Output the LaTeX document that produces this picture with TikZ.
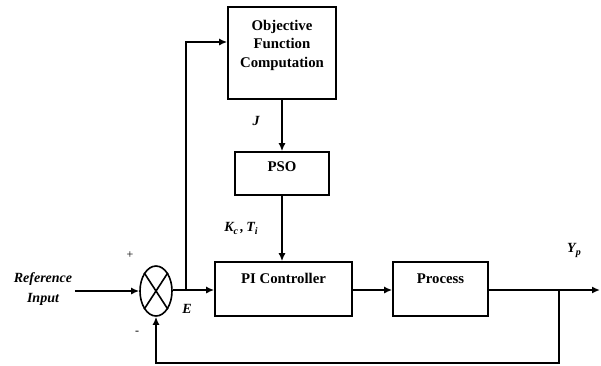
\documentclass[tikz,border=0pt]{standalone}
\usepackage{fontspec}
\setmainfont{Liberation Serif}
\usetikzlibrary{arrows.meta,shapes.geometric}
\newcommand{\sbi}[2]{\textbf{\textit{#1}}\raisebox{-3pt}{\fontsize{10}{10}\selectfont\textbf{\textit{#2}}}}
\begin{document}
\begin{tikzpicture}[x=1pt,y=-1pt,
  line width=1.6pt,
  arr/.style={-{Latex[length=8pt,width=7pt]}},
  blk/.style={draw,rectangle,inner sep=0pt,font=\fontsize{14.8}{18.5}\selectfont\bfseries,align=center},
  lbl/.style={inner sep=0pt,font=\fontsize{14}{16}\selectfont\bfseries\itshape}]
\useasboundingbox (0,0) rectangle (601,365);
\node[blk,minimum width=108pt,minimum height=92pt] (obj) at (282,53) {Objective\\Function\\Computation\\\mbox{}};
\node[blk,minimum width=94pt,minimum height=43pt,text height=9pt,text depth=13pt] (pso) at (282,173.5) {PSO};
\node[blk,minimum width=137pt,minimum height=54pt,text height=9pt,text depth=21pt] (pi) at (283.5,289) {PI Controller};
\node[blk,minimum width=95pt,minimum height=54pt,text height=9pt,text depth=21pt] (proc) at (440.5,289) {Process};
\node[draw,ellipse,inner sep=0pt,minimum width=32pt,minimum height=50pt] (sum) at (156,291) {};
\draw (sum.north west) -- (sum.south east) (sum.north east) -- (sum.south west);
\node[inner sep=0pt,align=center,font=\fontsize{14}{20}\selectfont\bfseries\itshape] (in) at (43,289) {Reference\\Input};
\coordinate (br) at (186,290);
\coordinate (out) at (600,290);
\coordinate (fb) at (559,290);
\coordinate (fbb) at (559,363);
\draw[arr] (in.east |- sum.west) ++(2,0) -- (sum.west);
\draw[arr] (sum.east |- br) -- (pi.west |- br);
\draw[arr] (br) |- ([yshift=11pt]obj.west);
\draw[arr] (obj.south) -- (pso.north);
\draw[arr] (pso.south) -- (pso.south |- pi.north);
\draw[arr] (pi.east |- br) -- (proc.west |- br);
\draw[arr] (proc.east |- br) -- (out);
\draw[arr] (fb) -- (fbb) -| (sum.south);
\node[lbl] (j) at (256,121) {J};
\node[lbl] (k) at (241,228) {\sbi{K}{c}\,,\,\sbi{T}{i}};
\node[lbl] (y) at (574,250) {\sbi{Y}{p}};
\node[lbl] (e) at (187,309) {E};
\node[inner sep=0pt,font=\fontsize{12}{12}\selectfont] (plus) at (130,255) {+};
\node[inner sep=0pt,font=\fontsize{12}{12}\selectfont] (minus) at (137,333) {-};
\end{tikzpicture}
\end{document}
